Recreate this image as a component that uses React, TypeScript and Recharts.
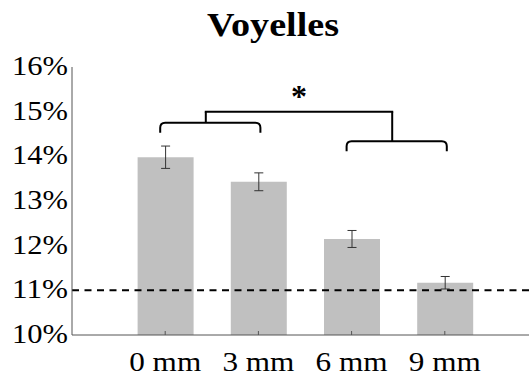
import React from 'react';
import { BarChart, Bar, XAxis, YAxis, ErrorBar, ReferenceLine } from 'recharts';

const categories = ['0 mm', '3 mm', '6 mm', '9 mm'];
const means = [13.98, 13.43, 12.15, 11.17];
const sems = [0.25, 0.2, 0.19, 0.14];
const yTicks = [10, 11, 12, 13, 14, 15, 16];
const chanceLevel = 11;
const title = 'Voyelles';

const data = categories.map((name, i) => ({ name, value: means[i], err: sems[i] }));

const SERIF = "'Liberation Serif', 'Times New Roman', Times, serif";
const FRAME = '#555';

// bracket levels (data units)
const leftBracketLevel = 14.75;
const rightBracketLevel = 14.34;
const connectorLevel = 15.0;

const serifStyle: React.CSSProperties = { fontFamily: SERIF };

const renderYTick = (props: any) => {
  const { x, y, payload } = props;
  return (
    <text x={x - 4} y={y + 8} textAnchor="end" style={serifStyle} fontSize={27} fill="#000"
      textLength={56} lengthAdjust="spacingAndGlyphs">{`${payload.value}%`}</text>
  );
};

const renderXTick = (props: any) => {
  const { x, y, payload } = props;
  return (
    <g>
      <line x1={x} y1={y} x2={x} y2={y - 4} stroke={FRAME} strokeWidth={1} />
      <text x={x} y={y + 36} textAnchor="middle" style={serifStyle} fontSize={27} fill="#000"
        textLength={72} lengthAdjust="spacingAndGlyphs">{payload.value}</text>
    </g>
  );
};

const renderTopTick = (props: any) => {
  const { x, y } = props;
  return <line x1={x} y1={y} x2={x} y2={y + 4} stroke={FRAME} strokeWidth={1} />;
};

const BracketShape = (props: any) => {
  const { x1, x2, y1 } = props;
  const l = x1 - 5;
  const r = x2 + 2;
  const d = 10;
  const rad = 5;
  const p = `M${l},${y1 + d} L${l},${y1 + rad} Q${l},${y1} ${l + rad},${y1} L${r - rad},${y1} Q${r},${y1} ${r},${y1 + rad} L${r},${y1 + d}`;
  return <path d={p} stroke="#000" strokeWidth={2} fill="none" />;
};

const StemShape = (props: any) => {
  const { x1, x2, y1, y2 } = props;
  const xs = (x1 + x2) / 2 - 6;
  return <line x1={xs} y1={y1} x2={xs} y2={y2} stroke="#000" strokeWidth={2} />;
};

const ConnectorShape = (props: any) => {
  const { x1, x2, y1 } = props;
  const sp = (x2 - x1) / 3;
  const xl = x1 + sp / 2 - 6;
  const xr = x1 + 2.5 * sp - 6;
  return (
    <g>
      <line x1={xl - 1} y1={y1} x2={xr + 1} y2={y1} stroke="#000" strokeWidth={2} />
      <text x={(xl + xr) / 2} y={y1 - 5} textAnchor="middle" style={serifStyle} fontWeight="bold"
        fontSize={32} fill="#000">*</text>
    </g>
  );
};

export default function App() {
  return (
    <div style={{ position: 'absolute', left: 0, top: 0, width: 529, height: 374, overflow: 'hidden', background: '#fff' }}>
      <svg width={529} height={60} style={{ position: 'absolute', left: 0, top: 0 }}>
        <text x={273} y={36} textAnchor="middle" style={serifStyle} fontWeight="bold" fontSize={33}
          fill="#000" textLength={132} lengthAdjust="spacingAndGlyphs">{title}</text>
      </svg>
      <BarChart width={540} height={374} data={data} margin={{ top: 67, right: 2, left: 0, bottom: 0 }}>
        <XAxis dataKey="name" height={39} padding={{ left: 46.6, right: 46.6 }} tickSize={0} tickMargin={0}
          interval={0} tickLine={false} axisLine={{ stroke: FRAME, strokeWidth: 1 }} tick={renderXTick} />
        <XAxis xAxisId="top" orientation="top" dataKey="name" height={0} padding={{ left: 46.6, right: 46.6 }}
          tickSize={0} tickMargin={0} interval={0} tickLine={false} axisLine={{ stroke: FRAME, strokeWidth: 1 }}
          tick={renderTopTick} />
        <YAxis width={72} domain={[10, 16]} ticks={yTicks} type="number" allowDataOverflow tickSize={0}
          tickMargin={0} interval={0} tickLine={false} axisLine={{ stroke: FRAME, strokeWidth: 1 }} tick={renderYTick} />
        <Bar dataKey="value" fill="#c0c0c0" barSize={56} isAnimationActive={false}>
          <ErrorBar dataKey="err" width={4.5} stroke="#333" strokeWidth={1} isAnimationActive={false} />
        </Bar>
        <ReferenceLine y={chanceLevel} stroke="#000" strokeWidth={2} strokeDasharray="7 5.5" />
        <ReferenceLine segment={[{ x: categories[0], y: leftBracketLevel }, { x: categories[1], y: leftBracketLevel }]}
          shape={BracketShape} />
        <ReferenceLine segment={[{ x: categories[2], y: rightBracketLevel }, { x: categories[3], y: rightBracketLevel }]}
          shape={BracketShape} />
        <ReferenceLine segment={[{ x: categories[0], y: leftBracketLevel }, { x: categories[1], y: connectorLevel }]}
          shape={StemShape} />
        <ReferenceLine segment={[{ x: categories[2], y: rightBracketLevel }, { x: categories[3], y: connectorLevel }]}
          shape={StemShape} />
        <ReferenceLine segment={[{ x: categories[0], y: connectorLevel }, { x: categories[3], y: connectorLevel }]}
          shape={ConnectorShape} />
      </BarChart>
    </div>
  );
}
